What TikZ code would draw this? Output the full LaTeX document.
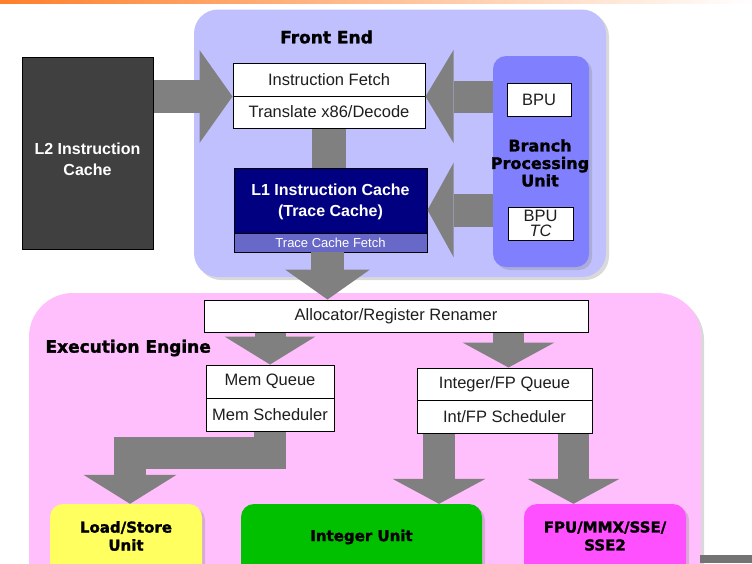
\documentclass[tikz,border=0pt]{standalone}
\usepackage{fontspec}
\setmainfont{Liberation Sans}
\newfontfamily\heavyfont{DejaVu Sans}[BoldFeatures={FakeBold=1.6}]
\usetikzlibrary{arrows.meta,shadows,calc}

\definecolor{frontfill}{RGB}{192,192,255}
\definecolor{bpufill}{RGB}{128,128,255}
\definecolor{execfill}{RGB}{255,190,252}
\definecolor{navyfill}{RGB}{0,0,128}
\definecolor{bandfill}{RGB}{104,104,200}
\definecolor{darkfill}{RGB}{64,64,64}
\definecolor{arrowgray}{RGB}{128,128,128}
\definecolor{lsfill}{RGB}{255,255,96}
\definecolor{intfill}{RGB}{0,192,0}
\definecolor{fpufill}{RGB}{255,80,255}
\definecolor{topbar}{RGB}{255,127,42}
\definecolor{boxtext}{RGB}{30,30,30}

\tikzset{
  panel/.style={rounded corners=#1, inner sep=0pt,
    drop shadow={shadow xshift=3pt, shadow yshift=-3pt, opacity=.3}},
  wbox/.style={draw=black, line width=1pt, fill=white, inner sep=0pt,
    text=boxtext, font=\fontsize{16.5}{19}\selectfont},
  heavy/.style={font=\heavyfont\bfseries\fontsize{#1}{18}\selectfont, align=center},
  fatarrow/.style n args={3}{draw=arrowgray, line width=#1,
    -{Triangle[length=#3, width=#2, line width=0pt]}},
  fatbar/.style={draw=arrowgray, line width=#1},
}

\begin{document}
\begin{tikzpicture}[x=1pt, y=-1pt]
\useasboundingbox (0,0) rectangle (752,563);
\clip (0,0) rectangle (752,563);

% title strip along the top edge
\shade[left color=topbar, right color=white] (0,0) rectangle (752,3);

% ---------- front end ----------
\node[panel=24pt, fill=frontfill, minimum width=412pt, minimum height=267.5pt]
  (front) at (400,143.25) {};
\node[heavy=17] (fronttitle) at (326.5,37) {Front End};

% ---------- execution engine ----------
\node[panel=44pt, fill=execfill, minimum width=672pt, minimum height=340pt]
  (exec) at (365,463) {};
\fill[arrowgray!90!black] (700,555) rectangle (752,563);
\node[heavy=17, anchor=west] (exectitle) at (42,348) {Execution Engine};

% ---------- branch processing unit ----------
\node[panel=13pt, fill=bpufill, minimum width=96pt, minimum height=211pt]
  (bpupanel) at (541,161.5) {};
\node[heavy=16, font=\heavyfont\bfseries\fontsize{16}{17.5}\selectfont]
  (bputitle) at (540,163) {Branch\\Processing\\Unit};

% ---------- L2 ----------
\node[draw=black, line width=1pt, fill=darkfill, minimum width=131pt,
  minimum height=192pt, inner sep=0pt] (l2) at (87.5,153) {};
\node[text=white, font=\bfseries\fontsize{16}{21}\selectfont, align=center]
  (l2text) at (87.5,159) {L2 Instruction\\Cache};

% ---------- white boxes ----------
\node[wbox, minimum width=192pt, minimum height=33pt] (fetch) at (329,79.5) {Instruction Fetch};
\node[wbox, minimum width=192pt, minimum height=32pt] (decode) at (329,112) {Translate x86/Decode};

\node[draw=black, line width=1pt, fill=navyfill, minimum width=193pt,
  minimum height=84pt, inner sep=0pt] (l1) at (330.5,210) {};
\node[draw=black, line width=.8pt, fill=bandfill, minimum width=193pt,
  minimum height=19pt, inner sep=0pt, text=white,
  font=\fontsize{13}{14}\selectfont] (tcf) at (330.5,242.5) {Trace Cache Fetch};
\node[text=white, font=\bfseries\fontsize{16}{21}\selectfont, align=center]
  (l1text) at (330.5,202) {L1 Instruction Cache\\(Trace Cache)};

\node[wbox, minimum width=64pt, minimum height=33pt] (bpu) at (539,99.5) {BPU};
\node[wbox, minimum width=65pt, minimum height=33pt, align=center,
  font=\fontsize{16.5}{15}\selectfont] (bputc) at (540.5,223.5) {BPU\\\itshape TC};

\node[wbox, minimum width=384pt, minimum height=32pt] (alloc) at (396,316)
  {Allocator/Register Renamer};
\node[wbox, minimum width=128pt, minimum height=33pt] (memq) at (270,381.5) {Mem Queue};
\node[wbox, minimum width=128pt, minimum height=33pt] (memsched) at (270,414.5) {Mem Scheduler};
\node[wbox, minimum width=175pt, minimum height=32pt] (intq) at (504.5,384) {Integer/FP Queue};
\node[wbox, minimum width=175pt, minimum height=33pt] (intsched) at (504.5,416.5) {Int/FP Scheduler};

% ---------- execution units ----------
\node[panel=13pt, fill=lsfill, minimum width=152pt, minimum height=100pt] (ls) at (126,554) {};
\node[panel=13pt, fill=intfill, minimum width=241pt, minimum height=100pt] (intunit) at (361.5,554) {};
\node[panel=13pt, fill=fpufill, minimum width=162pt, minimum height=100pt] (fpu) at (605,554) {};
\node[heavy=15] (lstext) at (126,536) {Load/Store\\Unit};
\node[heavy=15] (inttext) at (361.5,537) {Integer Unit};
\node[heavy=15] (fputext) at (605,536) {FPU/MMX/SSE/\\SSE2};

% ---------- data-flow arrows ----------
\draw[fatarrow={33pt}{93pt}{33pt}] (l2.east |- fetch.south west) -- (fetch.south west);
\draw[fatarrow={32pt}{93pt}{28pt}] (bpupanel.west |- fetch.south east) -- (fetch.south east);
\draw[fatarrow={33pt}{94pt}{26pt}] (bpupanel.west |- l1.east) -- (l1.east);
\draw[fatbar=34pt] (decode.south) -- (decode.south |- l1.north);
\draw[fatarrow={33pt}{85pt}{30pt}] ([xshift=-3pt]tcf.south) -- ([xshift=-3pt]tcf.south |- alloc.north);
\draw[fatarrow={31pt}{91pt}{28pt}] (memq.north |- alloc.south) -- (memq.north);
\draw[fatarrow={31pt}{92pt}{25pt}] ([xshift=4pt]intq.north |- alloc.south) -- ([xshift=4pt]intq.north);
\coordinate (qleft) at ([xshift=-65.5pt]intsched.south);
\coordinate (qright) at ([xshift=69pt]intsched.south);
\draw[fatarrow={32pt}{93pt}{25pt}] (qleft) -- (qleft |- intunit.north);
\draw[fatarrow={31pt}{92pt}{25pt}] (qright) -- (qright |- fpu.north);
\draw[fatarrow={32pt}{93pt}{29pt}] (memsched.south) -- ++(0,21) -| ([xshift=4pt]ls.north);
\end{tikzpicture}
\end{document}
